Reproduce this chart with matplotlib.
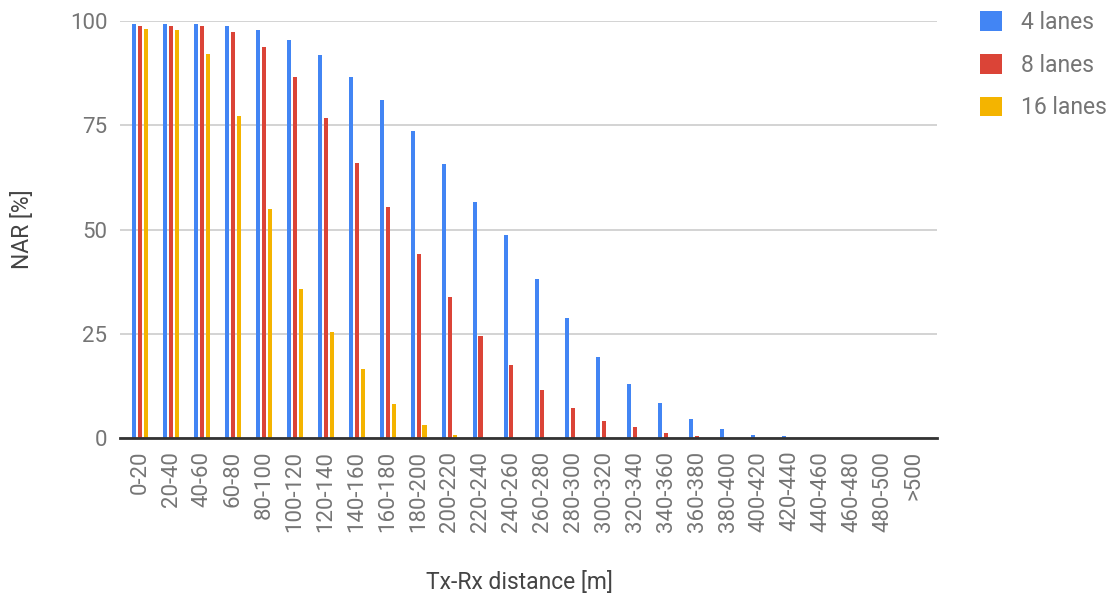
import matplotlib
matplotlib.use("Agg")
import matplotlib.pyplot as plt
import numpy as np

categories = ["0-20", "20-40", "40-60", "60-80", "80-100", "100-120", "120-140",
              "140-160", "160-180", "180-200", "200-220", "220-240", "240-260",
              "260-280", "280-300", "300-320", "320-340", "340-360", "360-380",
              "380-400", "400-420", "420-440", "440-460", "460-480", "480-500", ">500"]

lanes_4 = [99.2, 99.2, 99.2, 98.8, 97.8, 95.5, 91.8, 86.6, 81.1, 73.6, 65.6, 56.7, 48.8,
           38.1, 28.7, 19.5, 12.9, 8.4, 4.6, 2.3, 0.9, 0.5, 0, 0, 0, 0]
lanes_8 = [98.8, 98.8, 98.8, 97.4, 93.7, 86.6, 76.8, 66.0, 55.3, 44.1, 33.9, 24.5, 17.6,
           11.5, 7.3, 4.1, 2.7, 1.3, 0.5, 0, 0, 0, 0, 0, 0, 0]
lanes_16 = [98.1, 97.8, 92.1, 77.1, 54.8, 35.7, 25.5, 16.5, 8.3, 3.1, 0.7, 0, 0,
            0, 0, 0, 0, 0, 0, 0, 0, 0, 0, 0, 0, 0]

series = [("4 lanes", lanes_4, "#4285F4"),
          ("8 lanes", lanes_8, "#DB4437"),
          ("16 lanes", lanes_16, "#F4B400")]

plt.rcParams["font.family"] = ["Roboto", "DejaVu Sans"]

fig = plt.figure(figsize=(11.10, 5.99), dpi=100)
ax = fig.add_axes([0.1081, 0.2683, 0.7360, 0.6971])

x = np.arange(len(categories))
offsets = [-0.19, 0.0, 0.19]
bar_w = 0.13
handles = []
for (name, vals, color), off in zip(series, offsets):
    b = ax.bar(x + off, vals, width=bar_w, color=color, label=name, zorder=3,
               linewidth=0)
    handles.append(b)

ax.set_xlim(-0.65, 25.75)
ax.set_ylim(0, 100)
ax.set_yticks([0, 25, 50, 75, 100])
ax.set_xticks(x)
ax.set_xticklabels(categories, rotation=90)

ax.grid(axis="y", color="#cccccc", linewidth=1.2, zorder=0)
for side in ["left", "right", "top"]:
    ax.spines[side].set_visible(False)
ax.spines["bottom"].set_color("#333333")
ax.spines["bottom"].set_linewidth(2)
ax.spines["bottom"].set_zorder(4)
ax.tick_params(axis="both", length=0, labelcolor="#757575", labelsize=16)
ax.tick_params(axis="y", pad=9)
ax.tick_params(axis="x", pad=9)

ax.set_ylabel("NAR [%]", fontsize=16.5, color="#444444", labelpad=26)
fig.text(0.468, 0.027, "Tx-Rx distance [m]", fontsize=16.5, color="#444444",
         ha="center", va="center")

leg = ax.legend(handles=handles, loc="upper left", bbox_to_anchor=(0.875, 0.997),
                bbox_transform=fig.transFigure, frameon=False, fontsize=16.5,
                handlelength=0.95, handleheight=0.95, labelspacing=0.86,
                handletextpad=0.8, borderaxespad=0)
for t in leg.get_texts():
    t.set_color("#757575")

fig.savefig("out.png", dpi=100, facecolor="white")
